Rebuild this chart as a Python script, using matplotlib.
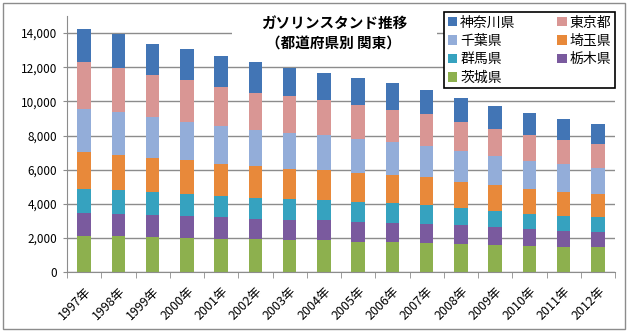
import matplotlib
matplotlib.use('Agg')
from matplotlib import pyplot as plt
from matplotlib.patches import Rectangle
import numpy as np

plt.rcParams['font.family'] = ['Noto Sans CJK JP', 'DejaVu Sans']

years = ['1997年', '1998年', '1999年', '2000年', '2001年', '2002年', '2003年', '2004年',
         '2005年', '2006年', '2007年', '2008年', '2009年', '2010年', '2011年', '2012年']

# stacked bottom -> top
ibaraki = [2120, 2105, 2070, 1990, 1930, 1930, 1870, 1870, 1790, 1750, 1730, 1680, 1580, 1540, 1480, 1460]
tochigi = [1370, 1305, 1280, 1300, 1310, 1210, 1190, 1190, 1170, 1130, 1100, 1070, 1050, 970, 960, 880]
gunma = [1380, 1400, 1350, 1270, 1200, 1210, 1230, 1170, 1150, 1160, 1110, 1030, 980, 920, 870, 920]
saitama = [2190, 2070, 2000, 1990, 1910, 1850, 1770, 1730, 1680, 1650, 1620, 1500, 1480, 1420, 1400, 1320]
chiba = [2470, 2480, 2360, 2260, 2210, 2140, 2090, 2070, 2010, 1930, 1850, 1840, 1710, 1680, 1620, 1520]
tokyo = [2750, 2570, 2480, 2440, 2300, 2170, 2140, 2030, 1990, 1890, 1830, 1650, 1560, 1500, 1420, 1420]
kanagawa = [1950, 1990, 1830, 1790, 1790, 1790, 1680, 1600, 1590, 1580, 1440, 1410, 1350, 1270, 1210, 1150]

series = [('茨城県', ibaraki, '#8DB04E'),
          ('栃木県', tochigi, '#7A5A9E'),
          ('群馬県', gunma, '#36A2BF'),
          ('埼玉県', saitama, '#E8893A'),
          ('千葉県', chiba, '#93ADD9'),
          ('東京都', tokyo, '#D99694'),
          ('神奈川県', kanagawa, '#4275B5')]

fig = plt.figure(figsize=(6.3, 3.33), dpi=100)
ax = fig.add_axes([67 / 630, 1 - 272.3 / 333, 548 / 630, (272.3 - 16) / 333])

x = np.arange(len(years))
bottom = np.zeros(len(years))
handles = {}
for name, vals, color in series:
    b = ax.bar(x, vals, bottom=bottom, width=0.4, color=color, label=name, zorder=2)
    handles[name] = b
    bottom += np.array(vals)

ax.set_xlim(-0.5, len(years) - 0.5)
ax.set_ylim(0, 15000)
ax.set_yticks(range(0, 14001, 2000))
ax.set_yticklabels(['{:,}'.format(v) for v in range(0, 14001, 2000)], fontsize=8.5)
ax.yaxis.grid(True, color='#8c8c8c', linewidth=1, zorder=0)
ax.set_axisbelow(True)

ax.set_xticks(x)
ax.set_xticklabels(years, rotation=45, ha='right', rotation_mode='anchor', fontsize=9)
ax.set_xticks(np.arange(-0.5, len(years)), minor=True)
ax.tick_params(axis='x', which='major', length=0, pad=9)
ax.tick_params(axis='x', which='minor', length=4, color='#8c8c8c')
ax.tick_params(axis='y', length=3, color='#8c8c8c', pad=4)

for s in ['top', 'right']:
    ax.spines[s].set_visible(False)
for s in ['left', 'bottom']:
    ax.spines[s].set_color('#8c8c8c')

# legend, row-wise order as in the original
order = ['神奈川県', '千葉県', '群馬県', '茨城県', '東京都', '埼玉県', '栃木県']
leg = fig.legend([handles[n] for n in order], order, ncol=2, loc='upper right',
                 bbox_to_anchor=(615 / 630, 1 - 12 / 333), fontsize=10,
                 fancybox=False, edgecolor='black', framealpha=1,
                 handlelength=0.7, handleheight=0.7, handletextpad=0.2,
                 columnspacing=3.0, labelspacing=0.32, borderpad=0.25, borderaxespad=0)
leg.get_frame().set_linewidth(1.2)

# white box behind the title that hides the grid line
fig.patches.append(Rectangle((232 / 630, 1 - 56 / 333), 205 / 630, 42 / 333,
                             transform=fig.transFigure, facecolor='white',
                             edgecolor='none', zorder=3))
fig.text(334 / 630, 1 - 23 / 333, 'ガソリンスタンド推移', ha='center', va='center',
         fontsize=10.5, fontweight='bold', zorder=4)
fig.text(333 / 630, 1 - 44 / 333, '（都道府県別 関東）', ha='center', va='center',
         fontsize=10.5, fontweight='bold', zorder=4)

# chart border
fig.patches.append(Rectangle((3 / 630, 4 / 333), 622 / 630, 326 / 333,
                             transform=fig.transFigure, facecolor='none',
                             edgecolor='#8c8c8c', linewidth=1, zorder=5))

fig.savefig('out.png', dpi=100)
